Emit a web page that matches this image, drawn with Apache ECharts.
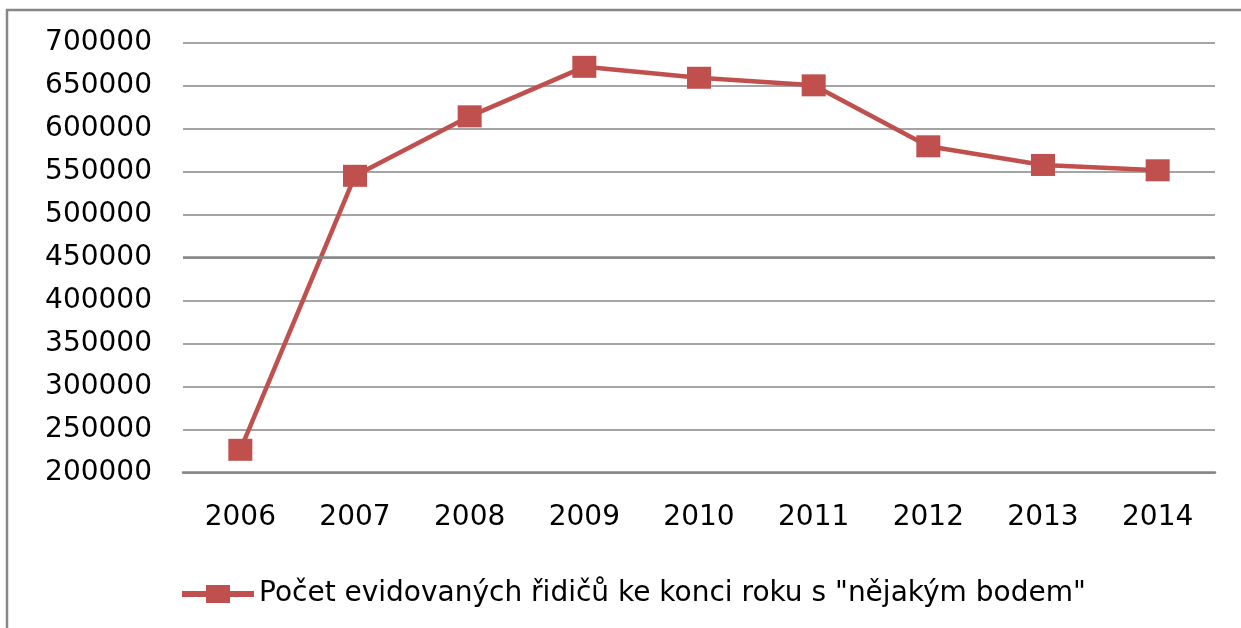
<!DOCTYPE html>
<html>
<head>
<meta charset="utf-8">
<script src="https://cdn.jsdelivr.net/npm/echarts@6/dist/echarts.min.js"></script>
<style>
html,body{margin:0;padding:0;background:#fff;}
#c{width:1241px;height:628px;}
</style>
</head>
<body>
<div id="c"></div>
<script>
const years = ['2006','2007','2008','2009','2010','2011','2012','2013','2014'];
const drivers = [226600, 544900, 614000, 671500, 658800, 650000, 579200, 557500, 551300];
const seriesName = 'Počet evidovaných řidičů ke konci roku s "nějakým bodem"';
const yMin = 200000, yMax = 700000, yStep = 50000;

const chart = echarts.init(document.getElementById('c'), null, {renderer:'canvas'});
const font = 'DejaVu Sans';
chart.setOption({
  animation: false,
  backgroundColor: '#fff',
  graphic: [
    { type: 'line', silent: true, shape: { x1: 7, y1: 9, x2: 7, y2: 628 },
      style: { stroke: '#878787', lineWidth: 2.5 } },
    { type: 'line', silent: true, shape: { x1: 6, y1: 10, x2: 1241, y2: 10 },
      style: { stroke: '#878787', lineWidth: 2.5 } }
  ],
  grid: { left: 183, right: 26, top: 42.3, bottom: 155.3, containLabel: false },
  legend: {
    left: 182, top: 580, padding: 0,
    itemWidth: 72, itemHeight: 18,
    icon: 'path://M0,6H24V0H48V6H72V12H48V18H24V12H0Z',
    textStyle: { fontFamily: font, fontSize: 28, color: '#000' },
    data: [seriesName]
  },
  xAxis: {
    type: 'category',
    data: years,
    boundaryGap: true,
    axisLine: { show: true, lineStyle: { color: '#868686', width: 2.5 } },
    axisTick: { show: false },
    axisLabel: { fontFamily: font, fontSize: 28, color: '#000', margin: 31 },
    splitLine: { show: false }
  },
  yAxis: {
    type: 'value',
    min: yMin, max: yMax, interval: yStep,
    axisLine: { show: false },
    axisTick: { show: false },
    axisLabel: { fontFamily: font, fontSize: 28, color: '#000', margin: 31,
      formatter: function (v) { return String(v); } },
    splitLine: { show: true, lineStyle: { color: '#868686', width: 1.5 } }
  },
  series: [{
    name: seriesName,
    type: 'line',
    data: drivers,
    symbol: 'rect',
    symbolSize: [24, 22],
    itemStyle: { color: '#C0504D' },
    lineStyle: { color: '#C0504D', width: 4.5 },
    markLine: {
      silent: true, symbol: 'none', label: { show: false },
      lineStyle: { color: '#868686', width: 2.5, type: 'solid' },
      data: [{ yAxis: 450000 }]
    },
    z: 3
  }]
});
</script>
</body>
</html>
